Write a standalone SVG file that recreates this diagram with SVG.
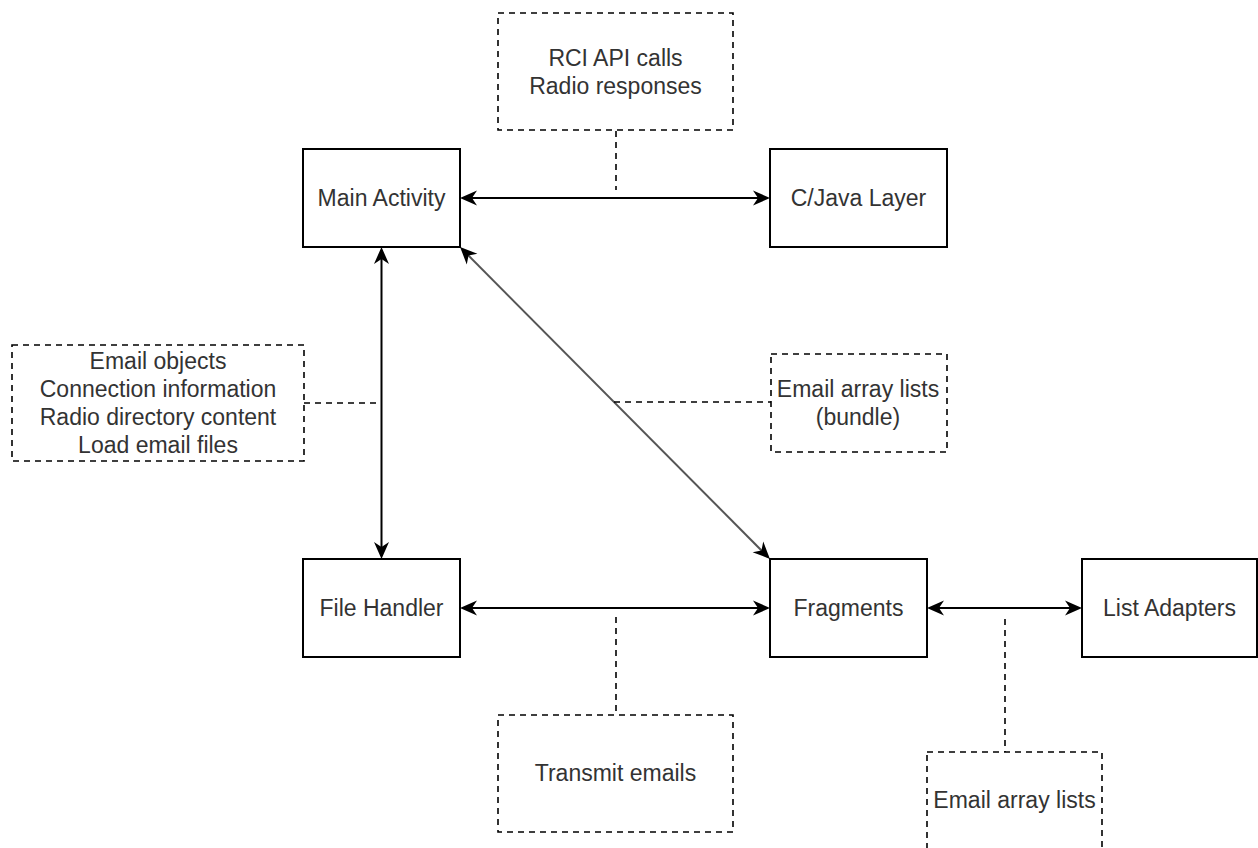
<svg xmlns="http://www.w3.org/2000/svg" width="1258" height="848" viewBox="0 0 1258 848">
<style>
.box{fill:#fff;stroke:#000;stroke-width:2}
.note{fill:#fff;stroke:#000;stroke-width:1.6;stroke-dasharray:6 5}
.t{font-family:"Liberation Sans",Arial,Helvetica,sans-serif;font-size:23px;fill:#333;text-anchor:middle}
.arr{fill:none;stroke:#000;stroke-width:2;marker-start:url(#ah);marker-end:url(#ah)}
.dash{fill:none;stroke:#000;stroke-width:1.6;stroke-dasharray:6 5}
</style>
<defs>
<marker id="ah" viewBox="-15 -9 19 18" markerWidth="19" markerHeight="18" refX="0" refY="0" orient="auto-start-reverse" markerUnits="userSpaceOnUse" overflow="visible">
<path d="M3,0 L-14,-7.5 L-9,0 L-14,7.5 Z" fill="#000"/>
</marker>
</defs>
<rect width="1258" height="848" fill="#fff"/>
<g id="connectors">
<path class="arr" d="M463,198 H767"/>
<path class="arr" d="M381.5,250 V556"/>
<path class="arr" d="M463,608 H767"/>
<path class="arr" d="M930,608 H1079"/>
<path class="arr" style="stroke:#555" d="M462.2,249.2 L767.8,556.8"/>
<path class="dash" d="M616,131 V190"/>
<path class="dash" d="M304,403 H381"/>
<path class="dash" d="M614,402 H771"/>
<path class="dash" d="M616,617 V715"/>
<path class="dash" d="M1005,619 V752"/>
</g>
<g id="main-activity">
<rect class="box" x="303" y="149" width="157" height="98"/>
<text class="t" x="381.5" y="206">Main Activity</text>
</g>
<g id="cjava-layer">
<rect class="box" x="770" y="149" width="177" height="98"/>
<text class="t" x="858.5" y="206">C/Java Layer</text>
</g>
<g id="file-handler">
<rect class="box" x="303" y="559" width="157" height="98"/>
<text class="t" x="381.5" y="616">File Handler</text>
</g>
<g id="fragments">
<rect class="box" x="770" y="559" width="157" height="98"/>
<text class="t" x="848.5" y="616">Fragments</text>
</g>
<g id="list-adapters">
<rect class="box" x="1082" y="559" width="175" height="98"/>
<text class="t" x="1169.5" y="616">List Adapters</text>
</g>
<g id="note-rci">
<rect class="note" x="498" y="13" width="235" height="117"/>
<text class="t" x="615.5" y="65.5">RCI API calls</text>
<text class="t" x="615.5" y="93.5">Radio responses</text>
</g>
<g id="note-email-objects">
<rect class="note" x="12" y="345" width="292" height="116"/>
<text class="t" x="158" y="369">Email objects</text>
<text class="t" x="158" y="397">Connection information</text>
<text class="t" x="158" y="425">Radio directory content</text>
<text class="t" x="158" y="453">Load email files</text>
</g>
<g id="note-bundle">
<rect class="note" x="771" y="354" width="176" height="98"/>
<text class="t" x="858" y="397">Email array lists</text>
<text class="t" x="858" y="425">(bundle)</text>
</g>
<g id="note-transmit">
<rect class="note" x="498" y="715" width="235" height="117"/>
<text class="t" x="615.5" y="781">Transmit emails</text>
</g>
<g id="note-email-array">
<rect class="note" x="927" y="752" width="175" height="110"/>
<text class="t" x="1014.5" y="808">Email array lists</text>
</g>
</svg>
